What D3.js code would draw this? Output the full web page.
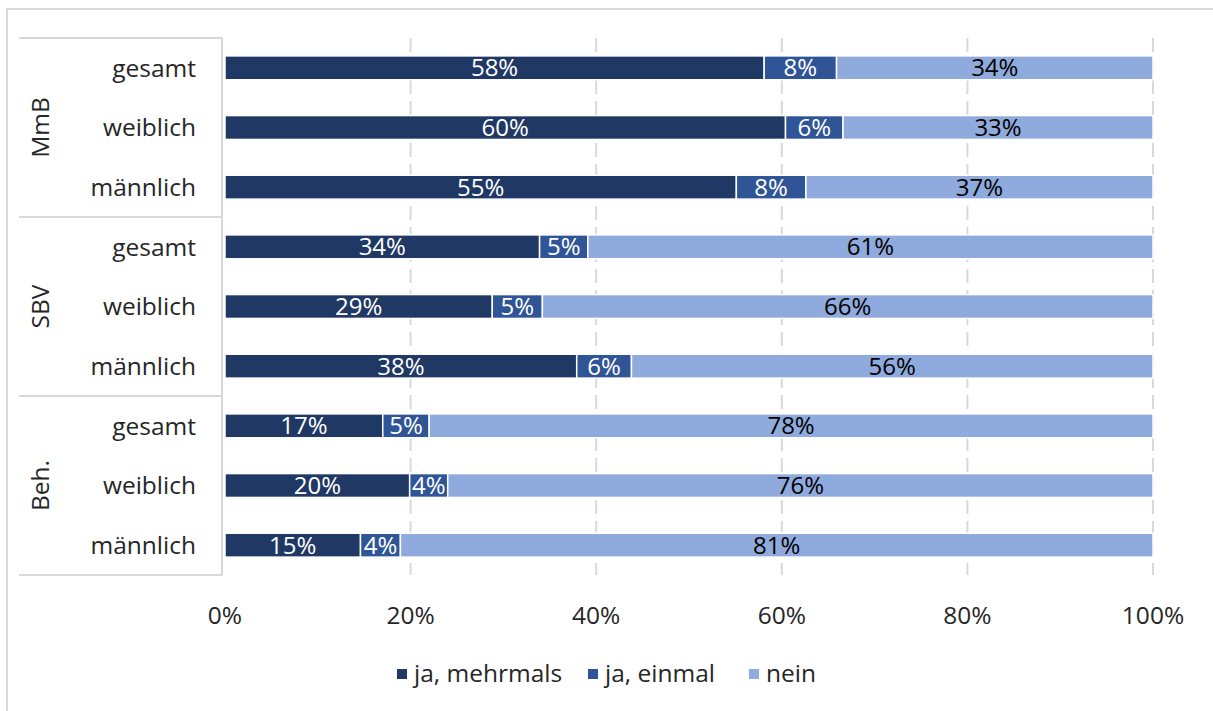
<!DOCTYPE html>
<meta charset="utf-8">
<style>
    body {
        margin: 0;
        background-color: #fff;
    }

    text {
        font-family: "Open Sans", sans-serif;
    }

    .grid line {
        stroke: #d9d9d9;
        stroke-width: 2px;
        stroke-dasharray: 14, 7;
    }

    .frame {
        fill: none;
        stroke: #d9d9d9;
        stroke-width: 2px;
    }
</style>

<body>
    <svg width="1213" height="711"></svg>
</body>
<script src="https://d3js.org/d3.v7.min.js"></script>
<script>
    // data
    var groups = ["MmB", "SBV", "Beh."];
    var subgroups = ["gesamt", "weiblich", "männlich"];
    var seriesNames = ["ja, mehrmals", "ja, einmal", "nein"];
    var mehrmals = [58.1, 60.4, 55.1, 33.9, 28.8, 37.9, 17.0, 19.9, 14.6];
    var einmal = [7.8, 6.2, 7.5, 5.2, 5.4, 5.9, 5.0, 4.1, 4.3];
    var nein = [34.1, 33.4, 37.4, 60.9, 65.8, 56.2, 78.0, 76.0, 81.1];
    var ticks = [0, 20, 40, 60, 80, 100];

    var colors = ["#203864", "#2f5597", "#8faadc"];
    var labelColors = ["#fff", "#fff", "#000"];

    var svg = d3.select("svg"),
        margin = { top: 38, right: 60, bottom: 136, left: 225 },
        width = +svg.attr("width") - margin.left - margin.right,
        height = +svg.attr("height") - margin.top - margin.bottom;

    // build rows
    var rows = [];
    groups.forEach(function(g, gi) {
        subgroups.forEach(function(s, si) {
            var i = gi * subgroups.length + si;
            rows.push({ id: g + "|" + s, group: g, sub: s, values: [mehrmals[i], einmal[i], nein[i]] });
        });
    });

    var x = d3.scaleLinear().domain([0, 100]).range([margin.left, margin.left + width]);
    var y = d3.scaleBand()
        .domain(rows.map(function(d) { return d.id; }))
        .range([margin.top, margin.top + height])
        .paddingInner(0.6)
        .paddingOuter(0.3);

    // outer frame
    svg.append("rect")
        .attr("class", "frame")
        .attr("x", 7)
        .attr("y", 9)
        .attr("width", 1400)
        .attr("height", 900);

    // gridlines
    svg.append("g")
        .attr("class", "grid")
        .selectAll("line")
        .data(ticks.filter(function(t) { return t > 0; }))
        .enter().append("line")
        .attr("x1", function(d) { return x(d); })
        .attr("x2", function(d) { return x(d); })
        .attr("y1", margin.top)
        .attr("y2", margin.top + height);

    // stacked bars
    var stack = d3.stack().keys([0, 1, 2]).value(function(d, k) { return d.values[k]; });
    var layers = stack(rows);

    var layer = svg.append("g").selectAll("g")
        .data(layers)
        .enter().append("g")
        .attr("fill", function(d, i) { return colors[i]; });

    layer.selectAll("rect")
        .data(function(d) { return d; })
        .enter().append("rect")
        .attr("x", function(d) { return x(d[0]); })
        .attr("y", function(d) { return y(d.data.id); })
        .attr("width", function(d) { return x(d[1]) - x(d[0]); })
        .attr("height", y.bandwidth())
        .attr("stroke", "#fff")
        .attr("stroke-width", 1.5);

    layer.each(function(L, li) {
        d3.select(this).selectAll("text")
            .data(L)
            .enter().append("text")
            .attr("x", function(d) { return (x(d[0]) + x(d[1])) / 2; })
            .attr("y", function(d) { return y(d.data.id) + y.bandwidth() / 2; })
            .attr("dy", "0.36em")
            .attr("text-anchor", "middle")
            .attr("fill", labelColors[li])
            .style("font-size", "24px")
            .text(function(d) { return Math.round(d[1] - d[0]) + "%"; });
    });

    // category axis table
    var step = y.step();
    var tableLeft = 19, tableRight = 222;
    var axis = svg.append("g")
        .attr("stroke", "#d9d9d9")
        .attr("stroke-width", 2);

    axis.append("line")
        .attr("x1", tableRight).attr("x2", tableRight)
        .attr("y1", margin.top).attr("y2", margin.top + height);

    d3.range(groups.length + 1).forEach(function(k) {
        var yy = margin.top + k * subgroups.length * step;
        axis.append("line")
            .attr("x1", tableLeft).attr("x2", tableRight)
            .attr("y1", yy).attr("y2", yy);
    });

    svg.append("g").selectAll("text")
        .data(rows)
        .enter().append("text")
        .attr("x", 196)
        .attr("y", function(d) { return y(d.id) + y.bandwidth() / 2; })
        .attr("dy", "0.36em")
        .attr("text-anchor", "end")
        .attr("fill", "#262626")
        .style("font-size", "24.5px")
        .text(function(d) { return d.sub; });

    svg.append("g").selectAll("text")
        .data(groups)
        .enter().append("text")
        .attr("transform", function(d, i) {
            var cy = margin.top + (i + 0.5) * subgroups.length * step;
            return "translate(40," + cy + ") rotate(-90)";
        })
        .attr("dy", "0.36em")
        .attr("text-anchor", "middle")
        .attr("fill", "#262626")
        .style("font-size", "24.5px")
        .text(function(d) { return d; });

    // x tick labels
    svg.append("g").selectAll("text")
        .data(ticks)
        .enter().append("text")
        .attr("x", function(d) { return x(d); })
        .attr("y", 624)
        .attr("text-anchor", "middle")
        .attr("fill", "#262626")
        .style("font-size", "24.5px")
        .text(function(d) { return d + "%"; });

    // legend
    var legendX = [397, 588, 749];
    var legend = svg.append("g").selectAll("g")
        .data(seriesNames)
        .enter().append("g")
        .attr("transform", function(d, i) { return "translate(" + legendX[i] + ",673)"; });

    legend.append("rect")
        .attr("x", 0)
        .attr("y", -4)
        .attr("width", 10)
        .attr("height", 10)
        .attr("fill", function(d, i) { return colors[i]; });

    legend.append("text")
        .attr("x", 17)
        .attr("dy", "0.36em")
        .attr("fill", "#262626")
        .style("font-size", "24.5px")
        .text(function(d) { return d; });
</script>
